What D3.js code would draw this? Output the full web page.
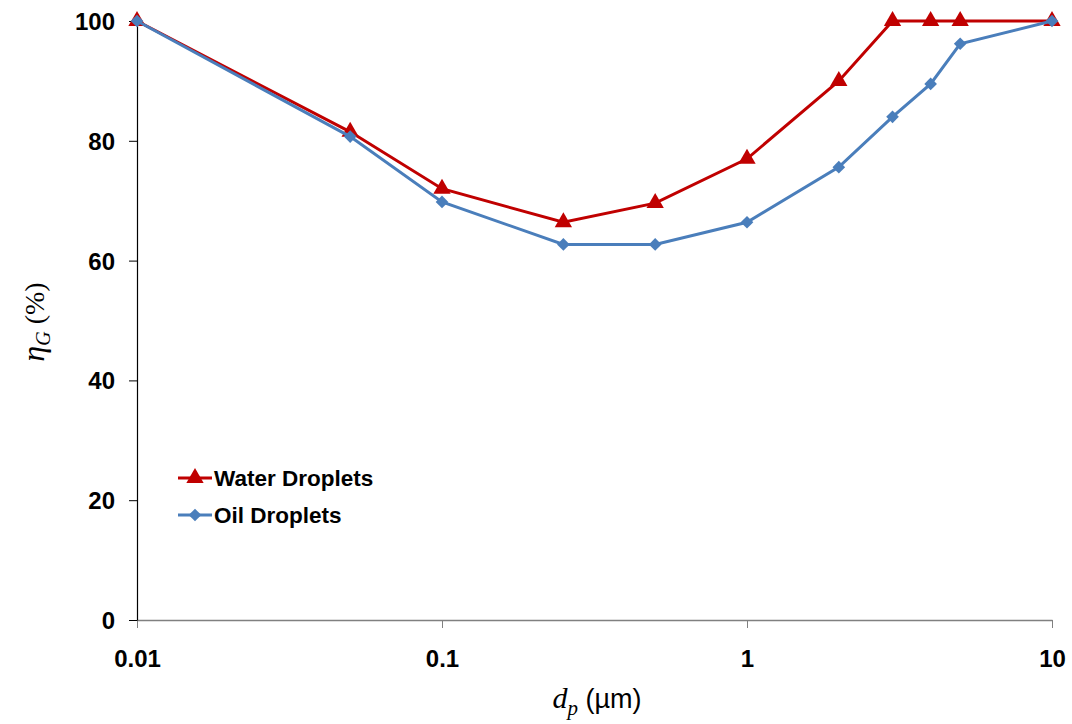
<!DOCTYPE html>
<html>
<head>
<meta charset="utf-8">
<script src="https://cdn.jsdelivr.net/npm/d3@7"></script>
<style>
  body { margin: 0; background: #fff; }
  svg { display: block; }
  .tick-label { font-family: "Liberation Sans", Arial, sans-serif; font-weight: bold; font-size: 24px; fill: #000; }
</style>
</head>
<body>
<svg id="chart" width="1072" height="724"></svg>
<script>
// ── data ──────────────────────────────────────
const diameters = [0.01, 0.05, 0.1, 0.25, 0.5, 1, 2, 3, 4, 5, 10];
const waterEff  = [100, 81.5, 72, 66.4, 69.6, 77, 90, 100, 100, 100, 100];
const oilEff    = [100, 80.7, 69.8, 62.7, 62.7, 66.4, 75.6, 84, 89.5, 96.2, 100];
const xTicks = [0.01, 0.1, 1, 10];
const xTickLabels = ["0.01", "0.1", "1", "10"];
const yTicks = [0, 20, 40, 60, 80, 100];

const W = 1072, H = 724;
const margin = { left: 137, right: 20, top: 21, bottom: 104 };

const svg = d3.select("#chart");

const x = d3.scaleLog().domain([0.01, 10]).range([margin.left, W - margin.right]);
const y = d3.scaleLinear().domain([0, 100]).range([H - margin.bottom, margin.top]);

// axes
const xAxis = svg.append("g").attr("transform", `translate(0,${y(0)})`)
  .call(d3.axisBottom(x).tickValues(xTicks).tickSize(8).tickSizeOuter(0).tickFormat((d, i) => xTickLabels[i]));
xAxis.select(".domain").attr("stroke", "#808080").attr("stroke-width", 1.3);
xAxis.selectAll(".tick line").attr("stroke", "#808080");
xAxis.selectAll(".tick text").attr("class", "tick-label").attr("y", 30).attr("dy", "0.71em");

const yAxis = svg.append("g").attr("transform", `translate(${x(0.01)},0)`)
  .call(d3.axisLeft(y).tickValues(yTicks).tickSize(8).tickSizeOuter(0));
yAxis.select(".domain").attr("stroke", "#000").attr("stroke-width", 1.2);
yAxis.selectAll(".tick line").attr("stroke", "#000");
yAxis.selectAll(".tick text").attr("class", "tick-label").attr("x", -22).attr("dy", "0.35em");

// axis titles
svg.append("text")
  .attr("x", 597).attr("y", 708)
  .attr("text-anchor", "middle")
  .style("font-family", "'Liberation Serif', 'Times New Roman', serif")
  .style("font-size", "30px")
  .call(t => {
    t.append("tspan").text("d").style("font-style", "italic");
    t.append("tspan").text("p").style("font-style", "italic").style("font-size", "21px").attr("dy", 7);
    t.append("tspan").text(" (µm)").attr("dy", -7)
      .style("font-family", "'Liberation Sans', Arial, sans-serif").style("font-size", "27px");
  });

svg.append("text")
  .attr("transform", "translate(44,322) rotate(-90)")
  .attr("text-anchor", "middle")
  .style("font-family", "'Liberation Serif', 'Times New Roman', serif")
  .style("font-size", "32px")
  .call(t => {
    t.append("tspan").text("η").style("font-style", "italic");
    t.append("tspan").text("G").style("font-style", "italic").style("font-size", "20px").attr("dy", 6);
    t.append("tspan").text(" (%)").attr("dy", -6).style("font-size", "28px");
  });

// series
const diamond = { draw(ctx, size) { const r = Math.sqrt(size / 2); ctx.moveTo(0, -r); ctx.lineTo(r, 0); ctx.lineTo(0, r); ctx.lineTo(-r, 0); ctx.closePath(); } };
const series = [
  { name: "Water Droplets", values: waterEff, color: "#c00000", symbol: d3.symbolTriangle, size: 130 },
  { name: "Oil Droplets",   values: oilEff,   color: "#4a7ebb", symbol: diamond,           size: 80 }
];

const line = d3.line().x(d => x(d[0])).y(d => y(d[1]));

series.forEach(s => {
  const pts = diameters.map((d, i) => [d, s.values[i]]);
  svg.append("path")
    .datum(pts)
    .attr("d", line)
    .attr("fill", "none")
    .attr("stroke", s.color)
    .attr("stroke-width", 3);
  svg.append("g").selectAll("path")
    .data(pts)
    .join("path")
      .attr("transform", d => `translate(${x(d[0])},${y(d[1])})`)
      .attr("d", d3.symbol().type(s.symbol).size(s.size))
      .attr("fill", s.color);
});

// legend
const legend = svg.append("g").attr("transform", "translate(178,478)");
series.forEach((s, i) => {
  const g = legend.append("g").attr("transform", `translate(0,${i * 37})`);
  g.append("line").attr("x1", 0).attr("x2", 34).attr("stroke", s.color).attr("stroke-width", 3);
  g.append("path").attr("transform", "translate(17,0)")
    .attr("d", d3.symbol().type(s.symbol).size(s.size)).attr("fill", s.color);
  g.append("text").attr("x", 36).attr("dy", "0.35em")
    .attr("class", "tick-label").style("font-size", "22.5px").text(s.name);
});
</script>
</body>
</html>
